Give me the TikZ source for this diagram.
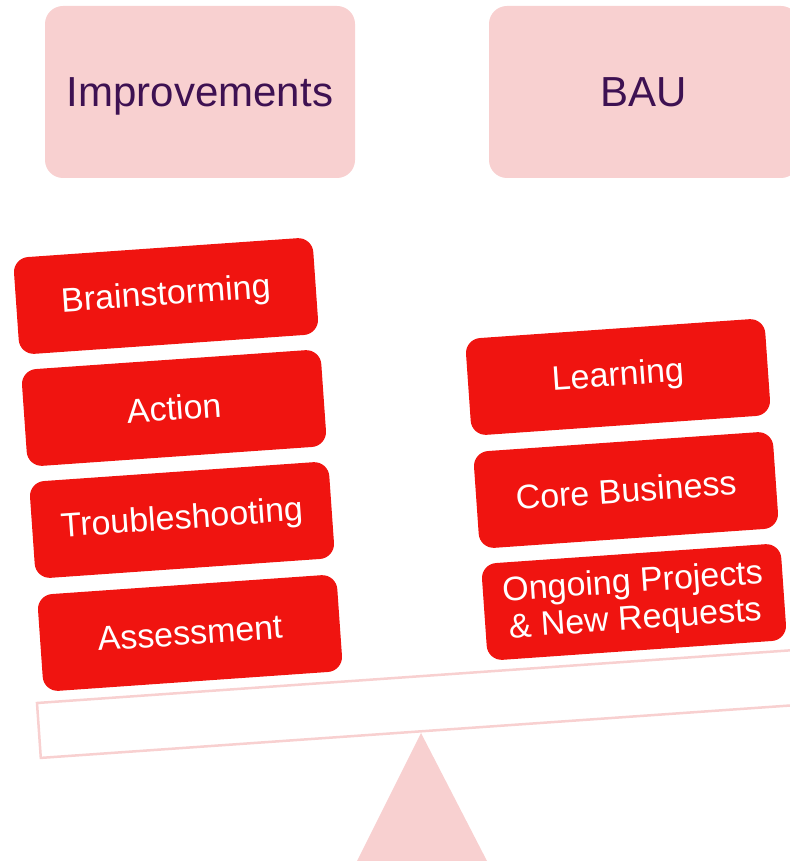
\documentclass[tikz,border=0pt]{standalone}
\usepackage{fontspec}
\setmainfont{Liberation Sans}
\definecolor{blockred}{RGB}{240,20,16}
\definecolor{headpink}{RGB}{248,208,208}
\definecolor{headtext}{RGB}{62,17,82}
\tikzset{
  headbox/.style={fill=headpink, rounded corners=18pt, minimum width=310pt,
    minimum height=172pt, text=headtext, text depth=0pt,
    font=\fontsize{42}{44}\selectfont},
  itembox/.style={fill=blockred, rounded corners=15pt, minimum width=300pt,
    minimum height=97pt, text=white, rotate=4, align=center,
    font=\fontsize{34}{37}\selectfont, inner sep=0pt},
  beam/.style={draw=headpink, line width=2.5pt, fill=white}
}
\begin{document}
\begin{tikzpicture}[x=1pt, y=-1pt]
                \useasboundingbox (0, 0) rectangle (789, 861);

                \node[headbox] (impr) at (200, 92) {Improvements};
                \node[headbox] (bau) at (644, 92) {BAU};

                % seesaw
                \draw[beam] (37, 703) -- (835, 647.2) -- (838.8, 702.1) -- (40.8, 757.9) -- cycle;
                \fill[headpink] (421, 733) -- (487, 861) -- (357, 861) -- cycle;

                \node[itembox] (brain) at (166, 296) {Brainstorming};
                \node[itembox] (action) at (174, 408) {Action};
                \node[itembox] (trouble) at (182, 520) {Troubleshooting};
                \node[itembox] (assess) at (190, 633) {Assessment};

                \node[itembox] (learn) at (618, 377) {Learning};
                \node[itembox] (core) at (626, 490) {Core Business};
                \node[itembox] (ongoing) at (634, 602) {Ongoing Projects\\ \& New Requests};
            \end{tikzpicture}
\end{document}
